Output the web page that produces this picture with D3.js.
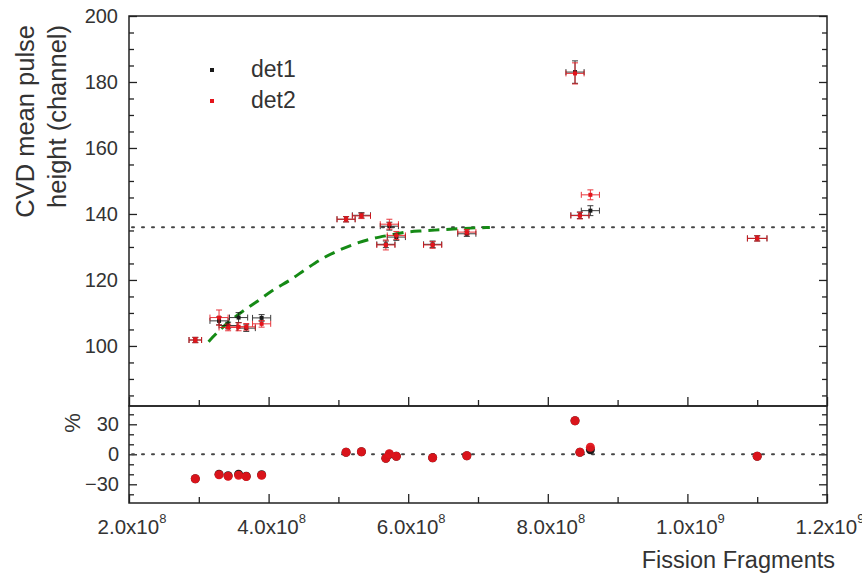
<!DOCTYPE html>
<html>
<head>
<meta charset="utf-8">
<script src="https://cdn.jsdelivr.net/npm/d3@7"></script>
<style>
  body { margin: 0; background: #fff; }
  text { font-family: 'Liberation Sans', Arial, sans-serif; fill: #333; }
  .axis path, .axis line { stroke: #222; stroke-width: 1.3; }
</style>
</head>
<body>
<svg width="862" height="575"></svg>
<script>
// fission fragments per measurement and its uncertainty
const fragments = [2.95e8, 3.29e8, 3.42e8, 3.57e8, 3.68e8, 3.90e8, 5.11e8, 5.33e8, 5.68e8, 5.73e8, 5.83e8, 6.35e8, 6.84e8, 8.39e8, 8.46e8, 8.61e8, 1.10e9];
const fragErr = [0.9e7, 1.3e7, 1.3e7, 1.3e7, 1.3e7, 1.3e7, 1.3e7, 1.3e7, 1.3e7, 1.3e7, 1.3e7, 1.3e7, 1.3e7, 1.3e7, 1.3e7, 1.3e7, 1.4e7];

// mean pulse height (channel)
const det1 = [101.8, 107.6, 106.2, 108.6, 105.4, 108.5, 138.4, 139.6, 130.8, 136.3, 133.0, 130.8, 134.0, 183.0, 139.6, 141.0, 132.6];
const det2 = [101.8, 108.6, 105.6, 105.8, 105.8, 106.7, 138.4, 139.4, 130.6, 136.9, 133.5, 130.6, 134.5, 182.6, 139.5, 145.8, 132.6];
const det1Err = [0.8, 1.2, 1.0, 1.5, 1.0, 1.0, 0.8, 0.8, 1.0, 1.2, 1.0, 1.0, 0.8, 3.4, 1.0, 1.5, 0.8];
const det2Err = [0.8, 2.3, 1.0, 1.2, 1.0, 1.0, 0.8, 0.8, 1.5, 1.5, 1.2, 1.0, 0.8, 3.2, 1.0, 1.5, 0.8];

// deviation (%) in lower panel
const pct1 = [-24.5, -20, -21.5, -20, -22, -20.5, 2, 2.5, -4, 0, -2, -3.5, -1.5, 33.5, 2, 4.5, -2];
const pct2 = [-24.5, -20.5, -22, -21, -22.3, -21, 2, 2.5, -4, 0.5, -2, -3.5, -1.5, 33.5, 2, 7, -2];

// dashed fit curve
const fitX = [3.14e8, 3.35e8, 3.59e8, 3.83e8, 4.07e8, 4.31e8, 4.55e8, 4.78e8, 5.02e8, 5.26e8, 5.50e8, 5.74e8, 5.98e8, 6.22e8, 6.46e8, 6.70e8, 6.98e8, 7.17e8];
const fitY = [101.3, 105.8, 109.9, 113.4, 117.0, 120.0, 123.5, 126.6, 129.1, 131.1, 132.6, 133.6, 134.5, 134.9, 135.2, 135.5, 135.8, 135.9];

const plateau = 136;

const xMajor = [2e8, 4e8, 6e8, 8e8, 1e9, 1.2e9];
const xMinor = [3e8, 5e8, 7e8, 9e8, 1.1e9];
const yTopMajor = [100, 120, 140, 160, 180, 200];
const yBotMajor = [-30, 0, 30];

const svg = d3.select('svg');
svg.append('rect').attr('width', 862).attr('height', 575).attr('fill', '#fff');

const left = 129, right = 827;
const topY0 = 16, topY1 = 406, botY1 = 503;

const xScale = d3.scaleLinear().domain([2e8, 1.2e9]).range([left, right]);
const yTop = d3.scaleLinear().domain([81.8, 200]).range([topY1, topY0]);
const yBot = d3.scaleLinear().domain([-48.7, 48.3]).range([botY1, topY1]);

const red = '#e4141b';
const black = '#1a1a1a';

// ---- axes ----
const addAxis = (axis, tx, ty) => {
  const g = svg.append('g').attr('class', 'axis')
    .attr('transform', `translate(${tx},${ty})`)
    .call(axis);
  g.select('.domain').remove();
  return g;
};

// top panel y
addAxis(d3.axisLeft(yTop).tickValues(yTopMajor).tickSize(-8).tickPadding(11), left, 0)
  .selectAll('text').style('font-size', '20px').attr('fill', '#333');
addAxis(d3.axisLeft(yTop).tickValues(d3.range(85, 200, 5).filter(v => v % 20 !== 0)).tickSize(-5).tickFormat(''), left, 0);
addAxis(d3.axisRight(yTop).tickValues(yTopMajor).tickSize(-8).tickFormat(''), right, 0);
addAxis(d3.axisRight(yTop).tickValues(d3.range(85, 200, 5).filter(v => v % 20 !== 0)).tickSize(-5).tickFormat(''), right, 0);

// bottom panel y
addAxis(d3.axisLeft(yBot).tickValues(yBotMajor).tickSize(-8).tickPadding(10), left, 0)
  .selectAll('text').style('font-size', '20px').attr('fill', '#333');
addAxis(d3.axisLeft(yBot).tickValues([-40, -20, -10, 10, 20, 40]).tickSize(-5).tickFormat(''), left, 0);
addAxis(d3.axisRight(yBot).tickValues(yBotMajor).tickSize(-8).tickFormat(''), right, 0);
addAxis(d3.axisRight(yBot).tickValues([-40, -20, -10, 10, 20, 40]).tickSize(-5).tickFormat(''), right, 0);

// x axes (top panel bottom edge and bottom panel bottom edge)
[topY1, botY1].forEach(yy => {
  addAxis(d3.axisBottom(xScale).tickValues(xMajor).tickSize(-9).tickFormat(''), 0, yy);
  addAxis(d3.axisBottom(xScale).tickValues(xMinor).tickSize(-6).tickFormat(''), 0, yy);
});

// x tick labels with exponent
xMajor.forEach(v => {
  const exp = Math.floor(Math.log10(v) + 1e-9);
  const mant = (v / Math.pow(10, exp)).toFixed(1);
  const t = svg.append('text')
    .attr('x', xScale(v) + 3)
    .attr('y', botY1 + 31)
    .attr('text-anchor', 'middle')
    .style('font-size', '20.5px');
  t.append('tspan').text(`${mant}x10`);
  t.append('tspan').attr('dy', -11).style('font-size', '13px').text(exp);
});

// frames
svg.append('rect').attr('x', left).attr('y', topY0).attr('width', right - left).attr('height', topY1 - topY0)
  .attr('fill', 'none').attr('stroke', '#222').attr('stroke-width', 1.5);
svg.append('rect').attr('x', left).attr('y', topY1).attr('width', right - left).attr('height', botY1 - topY1)
  .attr('fill', 'none').attr('stroke', '#222').attr('stroke-width', 1.5);

// axis titles
svg.append('text')
  .attr('transform', 'translate(34,25) rotate(-90)')
  .attr('text-anchor', 'end')
  .style('font-size', '25.5px')
  .text('CVD mean pulse');
svg.append('text')
  .attr('transform', 'translate(66,25) rotate(-90)')
  .attr('text-anchor', 'end')
  .style('font-size', '25.5px')
  .text('height (channel)');
svg.append('text')
  .attr('transform', 'translate(80,423) rotate(-90)')
  .attr('text-anchor', 'middle')
  .style('font-size', '22px')
  .text('%');
svg.append('text')
  .attr('x', 835).attr('y', 568)
  .attr('text-anchor', 'end')
  .style('font-size', '23.5px')
  .text('Fission Fragments');

// reference dotted lines
svg.append('line')
  .attr('x1', left + 3).attr('x2', right)
  .attr('y1', yTop(plateau)).attr('y2', yTop(plateau))
  .attr('stroke', '#444').attr('stroke-width', 2)
  .attr('stroke-dasharray', '2,8').attr('stroke-linecap', 'round');
svg.append('line')
  .attr('x1', left + 3).attr('x2', right)
  .attr('y1', yBot(0)).attr('y2', yBot(0))
  .attr('stroke', '#444').attr('stroke-width', 2)
  .attr('stroke-dasharray', '2,8').attr('stroke-linecap', 'round');

// fit curve
const fitData = fitX.map((x, i) => ({ x, y: fitY[i] }));
svg.append('path')
  .datum(fitData)
  .attr('fill', 'none')
  .attr('stroke', '#158a15')
  .attr('stroke-width', 3)
  .attr('stroke-dasharray', '11,7')
  .attr('d', d3.line().x(d => xScale(d.x)).y(d => yTop(d.y)).curve(d3.curveMonotoneX));

// ---- top panel points with error bars ----
const series = [
  { vals: det1, err: det1Err, color: black },
  { vals: det2, err: det2Err, color: red }
];

series.forEach(s => {
  const pts = fragments.map((x, i) => ({ x, xe: fragErr[i], y: s.vals[i], ye: s.err[i] }));
  const g = svg.append('g').attr('stroke', s.color).attr('stroke-width', 1).attr('opacity', 0.85);
  const cap = 3;
  pts.forEach(d => {
    const cx = xScale(d.x), cy = yTop(d.y);
    const x0 = xScale(d.x - d.xe), x1 = xScale(d.x + d.xe);
    const y0 = yTop(d.y - d.ye), y1 = yTop(d.y + d.ye);
    g.append('line').attr('x1', x0).attr('x2', x1).attr('y1', cy).attr('y2', cy);
    g.append('line').attr('x1', x0).attr('x2', x0).attr('y1', cy - cap).attr('y2', cy + cap);
    g.append('line').attr('x1', x1).attr('x2', x1).attr('y1', cy - cap).attr('y2', cy + cap);
    g.append('line').attr('x1', cx).attr('x2', cx).attr('y1', y0).attr('y2', y1);
    g.append('line').attr('x1', cx - cap).attr('x2', cx + cap).attr('y1', y0).attr('y2', y0);
    g.append('line').attr('x1', cx - cap).attr('x2', cx + cap).attr('y1', y1).attr('y2', y1);
  });
  svg.append('g').selectAll('rect').data(pts).enter().append('rect')
    .attr('x', d => xScale(d.x) - 2)
    .attr('y', d => yTop(d.y) - 2)
    .attr('width', 4).attr('height', 4)
    .attr('fill', s.color);
});

// ---- bottom panel points ----
svg.append('g').selectAll('circle').data(fragments.map((x, i) => ({ x, y: pct1[i] })))
  .enter().append('circle')
    .attr('cx', d => xScale(d.x))
    .attr('cy', d => yBot(d.y))
    .attr('r', 4.5)
    .attr('fill', black);
svg.append('g').selectAll('circle').data(fragments.map((x, i) => ({ x, y: pct2[i] })))
  .enter().append('circle')
    .attr('cx', d => xScale(d.x))
    .attr('cy', d => yBot(d.y))
    .attr('r', 4.5)
    .attr('fill', red)
    .attr('fill-opacity', 0.95);

// legend
const legendItems = [
  { label: 'det1', color: black, y: 70 },
  { label: 'det2', color: red, y: 101 }
];
legendItems.forEach(d => {
  svg.append('rect').attr('x', 210).attr('y', d.y - 2).attr('width', 4).attr('height', 4).attr('fill', d.color);
  svg.append('text').attr('x', 251).attr('y', d.y + 7).style('font-size', '23px').text(d.label);
});
</script>
</body>
</html>
